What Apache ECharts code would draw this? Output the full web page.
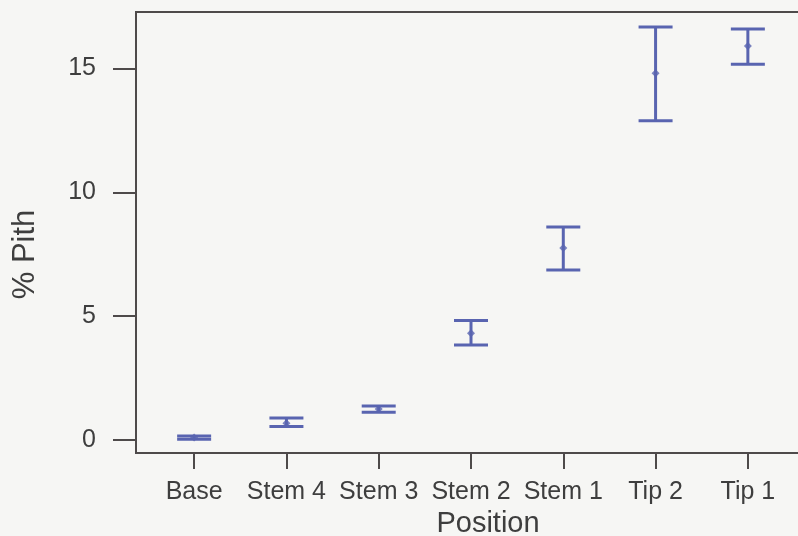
<!DOCTYPE html>
<html>
<head>
<meta charset="utf-8">
<script src="https://cdn.jsdelivr.net/npm/echarts@6/dist/echarts.min.js"></script>
<style>html,body{margin:0;padding:0;background:#f6f6f4;}#c{width:798px;height:536px;}</style>
</head>
<body>
<div id="c"></div>
<script>
const categories = ['Base', 'Stem 4', 'Stem 3', 'Stem 2', 'Stem 1', 'Tip 2', 'Tip 1'];
const means = [0.10, 0.67, 1.25, 4.31, 7.75, 14.81, 15.91];
const lower = [0.03, 0.54, 1.12, 3.83, 6.86, 12.89, 15.17];
const upper = [0.16, 0.88, 1.37, 4.82, 8.60, 16.67, 16.59];
const yTicks = [0, 5, 10, 15];

const blue = '#5964b0';
const axisCol = '#4e4a4a';
const textCol = '#3e3e3e';
const font = 'Liberation Sans, Arial, sans-serif';

const idx = categories.map((c, i) => i);
const errData = idx.map(i => [i, lower[i], upper[i]]);
const meanData = idx.map(i => [i, means[i]]);

const chart = echarts.init(document.getElementById('c'));
chart.setOption({
  backgroundColor: '#f6f6f4',
  animation: false,
  grid: { left: 136, top: 12, bottom: 83, right: -8, outerBoundsMode: 'none', containLabel: false, show: true, borderColor: axisCol, borderWidth: 2, backgroundColor: 'transparent' },
  xAxis: {
    type: 'value', min: -0.63, max: 6.63,
    name: 'Position', nameLocation: 'middle', nameGap: 55,
    nameTextStyle: { fontFamily: font, fontSize: 29, color: textCol, padding: [0, 0, 0, 34] },
    splitLine: { show: false },
    axisLine: { show: true, onZero: false, lineStyle: { color: axisCol, width: 2 } },
    axisTick: { show: true, length: 16, customValues: idx, lineStyle: { color: axisCol, width: 2 } },
    axisLabel: { customValues: idx, margin: 27, fontFamily: font, fontSize: 25, color: textCol, formatter: v => categories[Math.round(v)] }
  },
  yAxis: {
    type: 'value', min: -0.53, max: 17.28,
    name: '% Pith', nameLocation: 'middle', nameGap: 95, nameRotate: 90,
    nameTextStyle: { fontFamily: font, fontSize: 31, color: textCol, padding: [0, 44, 0, 0] },
    splitLine: { show: false },
    axisLine: { show: true, onZero: false, lineStyle: { color: axisCol, width: 2 } },
    axisTick: { show: true, length: 23, customValues: yTicks, lineStyle: { color: axisCol, width: 2 } },
    axisLabel: { customValues: yTicks, margin: 40, fontFamily: font, fontSize: 25, color: textCol }
  },
  series: [
    {
      type: 'custom',
      data: errData,
      renderItem: function (params, api) {
        const x = api.value(0);
        const lo = api.coord([x, api.value(1)]);
        const hi = api.coord([x, api.value(2)]);
        const hw = 17;
        const style = { stroke: blue, lineWidth: 3 };
        return {
          type: 'group',
          children: [
            { type: 'line', shape: { x1: lo[0], y1: lo[1], x2: hi[0], y2: hi[1] }, style },
            { type: 'line', shape: { x1: lo[0] - hw, y1: lo[1], x2: lo[0] + hw, y2: lo[1] }, style },
            { type: 'line', shape: { x1: hi[0] - hw, y1: hi[1], x2: hi[0] + hw, y2: hi[1] }, style }
          ]
        };
      }
    },
    {
      type: 'scatter',
      data: meanData,
      symbol: 'diamond',
      symbolSize: 8,
      itemStyle: { color: blue }
    }
  ]
});
</script>
</body>
</html>
